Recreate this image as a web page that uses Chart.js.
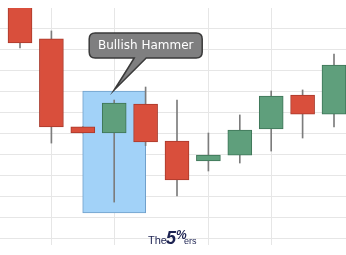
<!DOCTYPE html>
<html>
<head>
<meta charset="utf-8">
<script src="https://cdn.jsdelivr.net/npm/chart.js@4"></script>
<style>
  html, body { margin: 0; padding: 0; background: #ffffff; }
  #wrap { width: 346px; height: 255px; position: relative; }
</style>
</head>
<body>
<div id="wrap"><canvas id="c" width="346" height="255"></canvas></div>
<script>
// ---- data ----
const candles = [0, 1, 2, 3, 4, 5, 6, 7, 8, 9, 10];
const openV  = [124.0, 104.8, 62.9, 60.0, 73.8, 56.2, 46.7, 49.5, 61.9, 78.1, 69.0];
const highV  = [126.0, 108.6, 63.0, 75.7, 81.9, 75.7, 60.0, 68.6, 80.0, 80.5, 97.6];
const lowV   = [100.5,  55.2, 60.0, 27.1, 54.0, 30.0, 41.9, 45.7, 51.4, 57.6, 62.9];
const closeV = [102.9,  62.9, 60.0, 74.3, 55.7, 37.6, 49.5, 61.4, 77.6, 69.0, 92.4];
const gridCandles = [1, 3, 6, 8];
const yGridValues = [10, 20, 30, 40, 50, 60, 70, 80, 90, 100, 110];
const highlightCandle = [3];
const highlightRange = [21.9, 80.0];
const calloutText = 'Bullish Hammer';
const logoParts = ['The', '5%', 'ers'];

const RED = '#d94f3c', RED_B = '#a9392b';
const GREEN = '#5f9f7c', GREEN_B = '#3d7457';
const GRID = '#e6e6e6';

const bodyData = candles.map((x, i) => ({ x: x, y: [openV[i], closeV[i]] }));
const wickData = candles.map((x, i) => ({ x: x, y: [lowV[i], highV[i]] }));
const up = candles.map((x, i) => closeV[i] >= openV[i]);

const gridPlugin = {
  id: 'customGrid',
  beforeDatasetsDraw(chart) {
    const ctx = chart.ctx, a = chart.chartArea;
    const xs = chart.scales.x, ys = chart.scales.y;
    ctx.save();
    ctx.strokeStyle = GRID;
    ctx.lineWidth = 1;
    ctx.beginPath();
    gridCandles.forEach(v => {
      const px = Math.round(xs.getPixelForValue(v)) + 0.5;
      ctx.moveTo(px, a.top);
      ctx.lineTo(px, a.bottom);
    });
    yGridValues.forEach(v => {
      const py = Math.round(ys.getPixelForValue(v)) + 0.5;
      ctx.moveTo(a.left, py);
      ctx.lineTo(a.right, py);
    });
    ctx.stroke();
    ctx.restore();
  }
};

const calloutPlugin = {
  id: 'callout',
  afterDatasetsDraw(chart) {
    const ctx = chart.ctx;
    const xs = chart.scales.x, ys = chart.scales.y;
    const tipX = xs.getPixelForValue(highlightCandle[0]);
    const tipY = ys.getPixelForValue(highlightRange[1]) - 1;
    const left = tipX - 25, top = 33, w = 113, h = 25, r = 6;
    ctx.save();
    ctx.beginPath();
    ctx.moveTo(left + r, top);
    ctx.lineTo(left + w - r, top);
    ctx.quadraticCurveTo(left + w, top, left + w, top + r);
    ctx.lineTo(left + w, top + h - r);
    ctx.quadraticCurveTo(left + w, top + h, left + w - r, top + h);
    ctx.lineTo(tipX + 32, top + h);
    ctx.quadraticCurveTo(tipX + 18, top + h + 14, tipX, tipY);
    ctx.quadraticCurveTo(tipX + 14, top + h + 10, tipX + 20, top + h);
    ctx.lineTo(left + r, top + h);
    ctx.quadraticCurveTo(left, top + h, left, top + h - r);
    ctx.lineTo(left, top + r);
    ctx.quadraticCurveTo(left, top, left + r, top);
    ctx.closePath();
    ctx.fillStyle = '#7f7f80';
    ctx.fill();
    ctx.lineWidth = 1.5;
    ctx.strokeStyle = '#3a3a3a';
    ctx.stroke();
    ctx.fillStyle = '#ffffff';
    ctx.font = '12px "DejaVu Sans", sans-serif';
    ctx.textAlign = 'center';
    ctx.textBaseline = 'alphabetic';
    ctx.fillText(calloutText, left + w / 2, 49);
    ctx.restore();
  },
  afterDraw(chart) {
    const ctx = chart.ctx;
    ctx.save();
    ctx.fillStyle = '#1d2352';
    ctx.textBaseline = 'alphabetic';
    ctx.textAlign = 'left';
    ctx.font = '11px "Liberation Sans", Arial, sans-serif';
    ctx.fillText(logoParts[0], 148, 244);
    ctx.font = 'italic bold 18px "Liberation Sans", Arial, sans-serif';
    ctx.fillText(logoParts[1].charAt(0), 166, 244);
    ctx.font = 'italic bold 12px "Liberation Sans", Arial, sans-serif';
    ctx.fillText(logoParts[1].charAt(1), 176, 239);
    ctx.font = '9px "Liberation Sans", Arial, sans-serif';
    ctx.fillText(logoParts[2], 184, 244);
    ctx.restore();
  }
};

new Chart(document.getElementById('c'), {
  type: 'bar',
  data: {
    datasets: [
      {
        label: 'highlight',
        data: highlightCandle.map(x => ({ x: x, y: highlightRange })),
        backgroundColor: '#a2d2f8',
        borderColor: '#6f9fca',
        borderWidth: 1,
        borderSkipped: false,
        barThickness: 63,
        grouped: false,
        order: 3
      },
      {
        label: 'wick',
        data: wickData,
        backgroundColor: '#7c7c7c',
        borderWidth: 0,
        barThickness: 1,
        grouped: false,
        order: 2
      },
      {
        label: 'body',
        data: bodyData,
        backgroundColor: up.map(u => u ? GREEN : RED),
        borderColor: up.map(u => u ? GREEN_B : RED_B),
        borderWidth: 1,
        borderSkipped: false,
        barThickness: 24,
        grouped: false,
        order: 1
      }
    ]
  },
  options: {
    responsive: false,
    animation: false,
    maintainAspectRatio: false,
    layout: { padding: { top: 8, bottom: 10, left: 0, right: 0 } },
    plugins: { legend: { display: false }, tooltip: { enabled: false } },
    scales: {
      x: {
        type: 'linear',
        min: -20 / 31.4,
        max: 10 + 12 / 31.4,
        offset: false,
        ticks: { display: false },
        grid: { display: false, drawTicks: false },
        border: { display: false }
      },
      y: {
        type: 'linear',
        min: (259 - 245) / 2.1,
        max: (259 - 8) / 2.1,
        ticks: { display: false },
        grid: { display: false, drawTicks: false },
        border: { display: false }
      }
    }
  },
  plugins: [gridPlugin, calloutPlugin]
});
</script>
</body>
</html>
